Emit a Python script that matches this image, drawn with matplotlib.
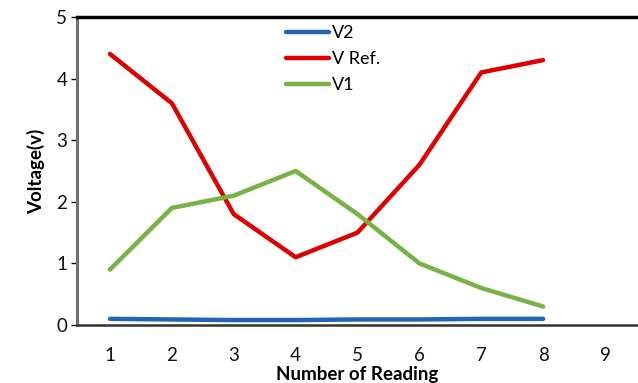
import matplotlib
matplotlib.use("Agg")
import matplotlib.pyplot as plt

readings = [1, 2, 3, 4, 5, 6, 7, 8]
v2 = [0.10, 0.09, 0.08, 0.08, 0.09, 0.09, 0.10, 0.10]
v_ref = [4.4, 3.6, 1.8, 1.1, 1.5, 2.6, 4.1, 4.3]
v1 = [0.9, 1.9, 2.1, 2.5, 1.8, 1.0, 0.6, 0.3]
xticks = [1, 2, 3, 4, 5, 6, 7, 8, 9]
yticks = [0, 1, 2, 3, 4, 5]

plt.rcParams['font.family'] = ['Lato', 'DejaVu Sans']

fig = plt.figure(figsize=(6.38, 3.83), dpi=100)
ax = fig.add_axes([77/638, 1-325/383, 1-77/638, (325-17)/383])

ax.plot(readings, v2, color='#1f64b8', lw=3.2, label='V2', solid_capstyle='round')
ax.plot(readings, v_ref, color='#e00000', lw=3.2, label='V Ref.', solid_capstyle='round')
ax.plot(readings, v1, color='#76b244', lw=3.2, label='V1', solid_capstyle='round')

ax.set_xlim(0.467, 9.533)
ax.set_ylim(0, 5)
ax.set_xticks(xticks)
ax.set_yticks(yticks)
ax.tick_params(axis='x', length=0, pad=16, labelsize=13.5, colors='#111111')
ax.tick_params(axis='y', length=4, width=1, pad=3, labelsize=13.5, colors='#111111', direction='out')

ax.spines['right'].set_visible(False)
ax.spines['top'].set_linewidth(2.5)
ax.spines['top'].set_color('black')
ax.spines['left'].set_linewidth(2.2)
ax.spines['left'].set_color('#707070')
ax.spines['bottom'].set_linewidth(1.8)
ax.spines['bottom'].set_color('#333333')

ax.set_xlabel('Number of Reading', fontweight='bold', fontsize=13.5, labelpad=1)
ax.set_ylabel('Voltage(v)', fontweight='bold', fontsize=13.5, labelpad=8)

leg = ax.legend(loc='upper left', bbox_to_anchor=(286/638, 1-25/383), bbox_transform=fig.transFigure,
                frameon=False, fontsize=13, handlelength=2.4, handletextpad=0.15,
                labelspacing=0.55, borderaxespad=0, borderpad=0)

fig.savefig('out.png', dpi=100)
